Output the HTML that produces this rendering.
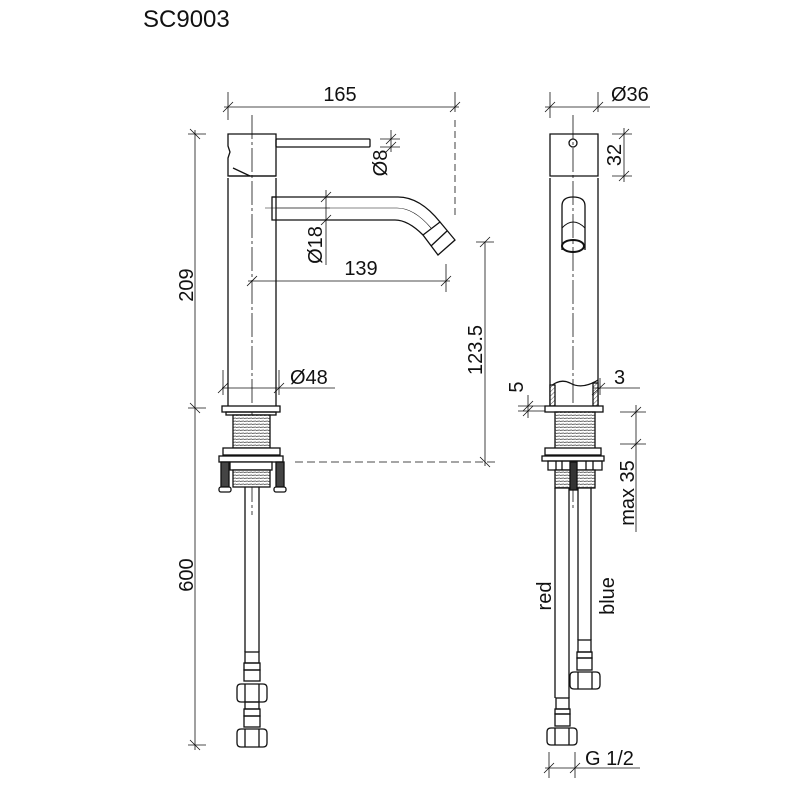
<!DOCTYPE html>
<html><head><meta charset="utf-8"><style>
html,body{margin:0;padding:0;background:#fff;}
svg{display:block;}
text{font-family:"Liberation Sans",sans-serif;fill:#111;}
</style></head><body>
<svg width="794" height="789" viewBox="0 0 794 789" xmlns="http://www.w3.org/2000/svg">
<defs>
<pattern id="th" width="4" height="3" patternUnits="userSpaceOnUse"><rect width="4" height="3" fill="#fff"/><line x1="0" y1="1.5" x2="4" y2="1" stroke="#666" stroke-width="1"/></pattern>
<pattern id="ht" width="3" height="3" patternUnits="userSpaceOnUse" patternTransform="rotate(45)"><rect width="3" height="3" fill="#fff"/><line x1="0" y1="0" x2="0" y2="3" stroke="#555" stroke-width="1"/></pattern>
</defs>
<text x="143" y="27" font-size="24">SC9003</text>

<g fill="none" stroke="#111" stroke-width="1.3">
<line x1="252" y1="115" x2="252" y2="515" stroke-width="0.8" stroke-dasharray="24,3,3,3"/>
<path d="M228,134 H276 V176 H228 V158 L230,152 L228,146 Z"/>
<path d="M233,168 L250,176" />
<line x1="229" y1="176" x2="276" y2="176"/>
<rect x="276" y="139" width="94" height="8" rx="1"/>
<path d="M228,178 V406 M276,178 V406"/>
<path d="M276,197 H272 V220 H276"/>
<path d="M272,197 H398 Q420,197 440,222"/>
<path d="M276,220 H395 Q408,220 423,235"/>
<path d="M276,208 H397 Q414,208 431,228" stroke-width="0.6"/>
<path d="M423,235 L440,222 L455,240 L438,255 Z"/>
<line x1="431" y1="246" x2="447" y2="231"/>
<rect x="222" y="406" width="58" height="6" fill="#fff"/>
<rect x="226" y="412" width="50" height="3"/>
<rect x="233" y="415" width="37" height="33" fill="url(#th)"/>
<rect x="223" y="448" width="57" height="7" fill="#fff"/>
<rect x="219" y="456" width="64" height="6" fill="#fff"/>
<rect x="221" y="462" width="8" height="25" fill="#444"/>
<rect x="276" y="462" width="8" height="25" fill="#444"/>
<rect x="219" y="487" width="12" height="5" rx="2" fill="#fff"/>
<rect x="274" y="487" width="12" height="5" rx="2" fill="#fff"/>
<rect x="230" y="462" width="42" height="8" fill="#fff"/>
<rect x="233" y="470" width="37" height="17" fill="url(#th)"/>
<path d="M245,487 V652 M259,487 V652"/>
<rect x="245" y="652" width="14" height="11"/>
<rect x="244" y="663" width="16" height="7"/>
<rect x="244" y="670" width="16" height="11"/>
<path d="M241,684 H263 Q267,684 267,688 V698 Q267,702 263,702 H241 Q237,702 237,698 V688 Q237,684 241,684 Z"/>
<path d="M245,684 V702 M259,684 V702"/>
<rect x="245" y="702" width="14" height="7"/>
<rect x="244" y="709" width="16" height="7"/>
<rect x="244" y="716" width="16" height="11"/>
<path d="M241,729 H263 Q267,729 267,733 V743 Q267,747 263,747 H241 Q237,747 237,743 V733 Q237,729 241,729 Z"/>
<path d="M245,729 V747 M259,729 V747"/>
</g>

<g fill="none" stroke="#111" stroke-width="0.8">
<line x1="228" y1="92" x2="228" y2="120"/>
<line x1="455" y1="92" x2="455" y2="112"/>
<line x1="224" y1="107" x2="459" y2="107"/>
<line x1="223" y1="112" x2="233" y2="102"/><line x1="450" y1="112" x2="460" y2="102"/>
<line x1="455" y1="120" x2="455" y2="218" stroke-dasharray="7,4"/>
<line x1="195" y1="130" x2="195" y2="750"/>
<line x1="188" y1="134" x2="206" y2="134"/><line x1="190" y1="129" x2="200" y2="139"/>
<line x1="188" y1="408" x2="206" y2="408"/><line x1="190" y1="403" x2="200" y2="413"/>
<line x1="188" y1="745" x2="206" y2="745"/><line x1="190" y1="740" x2="200" y2="750"/>
<line x1="380" y1="139" x2="400" y2="139"/><line x1="380" y1="147" x2="400" y2="147"/>
<line x1="391" y1="130" x2="391" y2="152"/>
<line x1="386" y1="144" x2="396" y2="134"/><line x1="386" y1="152" x2="396" y2="142"/>
<line x1="326" y1="190" x2="326" y2="265"/>
<line x1="321" y1="202" x2="331" y2="192"/><line x1="321" y1="225" x2="331" y2="215"/>
<line x1="265" y1="208" x2="330" y2="208" stroke-width="0.6"/>
<line x1="248" y1="281" x2="450" y2="281"/>
<line x1="247" y1="286" x2="257" y2="276"/><line x1="441" y1="286" x2="451" y2="276"/>
<line x1="446" y1="264" x2="446" y2="292"/>
<line x1="222" y1="388" x2="335" y2="388"/>
<line x1="218" y1="393" x2="228" y2="383"/><line x1="274" y1="393" x2="284" y2="383"/>
<line x1="223" y1="370" x2="223" y2="395"/><line x1="279" y1="370" x2="279" y2="395"/>
<line x1="485" y1="242" x2="485" y2="466"/>
<line x1="476" y1="242" x2="494" y2="242"/><line x1="480" y1="247" x2="490" y2="237"/>
<line x1="480" y1="457" x2="490" y2="467"/>
<line x1="295" y1="462" x2="495" y2="462" stroke-dasharray="8,4"/>
</g>
<g font-size="20">
<text x="340" y="101" text-anchor="middle">165</text>
<text x="361" y="275" text-anchor="middle">139</text>
<text x="290" y="384">Ø48</text>
<text transform="translate(193,285) rotate(-90)" text-anchor="middle">209</text>
<text transform="translate(193,575) rotate(-90)" text-anchor="middle">600</text>
<text transform="translate(387,163) rotate(-90)" text-anchor="middle">Ø8</text>
<text transform="translate(322,245) rotate(-90)" text-anchor="middle">Ø18</text>
<text transform="translate(482,350) rotate(-90)" text-anchor="middle">123.5</text>
</g>

<g fill="none" stroke="#111" stroke-width="1.3">
<line x1="573" y1="115" x2="573" y2="510" stroke-width="0.8" stroke-dasharray="24,3,3,3"/>
<path d="M550,134 H598 V176 H550 Z"/>
<circle cx="573" cy="143" r="4"/>
<path d="M550,178 V406 M598,178 V406"/>
<path d="M562,250 V206 Q562,197 573,197 Q585,197 585,206 V250"/>
<path d="M562,228 Q573,216 585,228" stroke-width="1"/>
<ellipse cx="573" cy="246" rx="11" ry="6" stroke-width="2"/>
<path d="M550,387 Q560,378 570,383 Q582,390 598,380" />
<rect x="550" y="385" width="5" height="21" fill="url(#ht)"/>
<rect x="593" y="383" width="5" height="23" fill="url(#ht)"/>
<rect x="545" y="406" width="58" height="6" fill="#fff"/>
<rect x="555" y="412" width="40" height="42" fill="url(#th)"/>
<rect x="545" y="448" width="56" height="7" fill="#fff"/>
<rect x="542" y="456" width="62" height="5" fill="#fff"/>
<path d="M548,461 H602 V470 H548 Z M556,461 V470 M562,461 V470 M586,461 V470 M593,461 V470"/>
<rect x="555" y="470" width="40" height="18" fill="url(#th)"/>
<rect x="570" y="462" width="7" height="28" fill="#333"/>
<path d="M555,488 V698 M569,488 V698"/>
<rect x="556" y="698" width="13" height="11"/>
<rect x="555" y="709" width="15" height="5"/>
<rect x="555" y="714" width="15" height="12"/>
<path d="M551,728 H573 Q577,728 577,732 V741 Q577,745 573,745 H551 Q547,745 547,741 V732 Q547,728 551,728 Z"/>
<path d="M555,728 V745 M569,728 V745"/>
<path d="M578,488 V640 M591,488 V640"/>
<rect x="578" y="640" width="13" height="12"/>
<rect x="577" y="652" width="15" height="6"/>
<rect x="577" y="658" width="15" height="12"/>
<path d="M574,672 H596 Q600,672 600,676 V685 Q600,689 596,689 H574 Q570,689 570,685 V676 Q570,672 574,672 Z"/>
<path d="M578,672 V689 M592,672 V689"/>
</g>
<g fill="none" stroke="#111" stroke-width="0.8">
<line x1="550" y1="92" x2="550" y2="118"/><line x1="598" y1="92" x2="598" y2="112"/>
<line x1="545" y1="107" x2="650" y2="107"/>
<line x1="545" y1="112" x2="555" y2="102"/><line x1="593" y1="112" x2="603" y2="102"/>
<line x1="612" y1="134" x2="632" y2="134"/><line x1="612" y1="176" x2="632" y2="176"/>
<line x1="624" y1="128" x2="624" y2="182"/>
<line x1="619" y1="139" x2="629" y2="129"/><line x1="619" y1="181" x2="629" y2="171"/>
<line x1="518" y1="406" x2="545" y2="406"/><line x1="518" y1="411" x2="545" y2="411"/>
<line x1="528" y1="395" x2="528" y2="418"/>
<line x1="523" y1="411" x2="533" y2="401"/><line x1="523" y1="416" x2="533" y2="406"/>
<line x1="593" y1="388" x2="640" y2="388" />
<line x1="600" y1="378" x2="600" y2="395"/>
<line x1="592" y1="395" x2="605" y2="383"/>
<line x1="620" y1="412" x2="646" y2="412"/><line x1="620" y1="444" x2="646" y2="444"/>
<line x1="636" y1="405" x2="636" y2="532"/>
<line x1="631" y1="417" x2="641" y2="407"/><line x1="631" y1="449" x2="641" y2="439"/>
<line x1="549" y1="752" x2="549" y2="778"/><line x1="575" y1="752" x2="575" y2="778"/>
<line x1="545" y1="768" x2="640" y2="768"/>
<line x1="544" y1="773" x2="554" y2="763"/><line x1="570" y1="773" x2="580" y2="763"/>
</g>
<g font-size="20">
<text x="611" y="101">Ø36</text>
<text x="614" y="384">3</text>
<text x="585" y="765">G 1/2</text>
<text transform="translate(621,155) rotate(-90)" text-anchor="middle">32</text>
<text transform="translate(523,387) rotate(-90)" text-anchor="middle">5</text>
<text transform="translate(634,493) rotate(-90)" text-anchor="middle">max 35</text>
<text transform="translate(551,596) rotate(-90)" text-anchor="middle">red</text>
<text transform="translate(614,596) rotate(-90)" text-anchor="middle">blue</text>
</g>
</svg>
</body></html>
